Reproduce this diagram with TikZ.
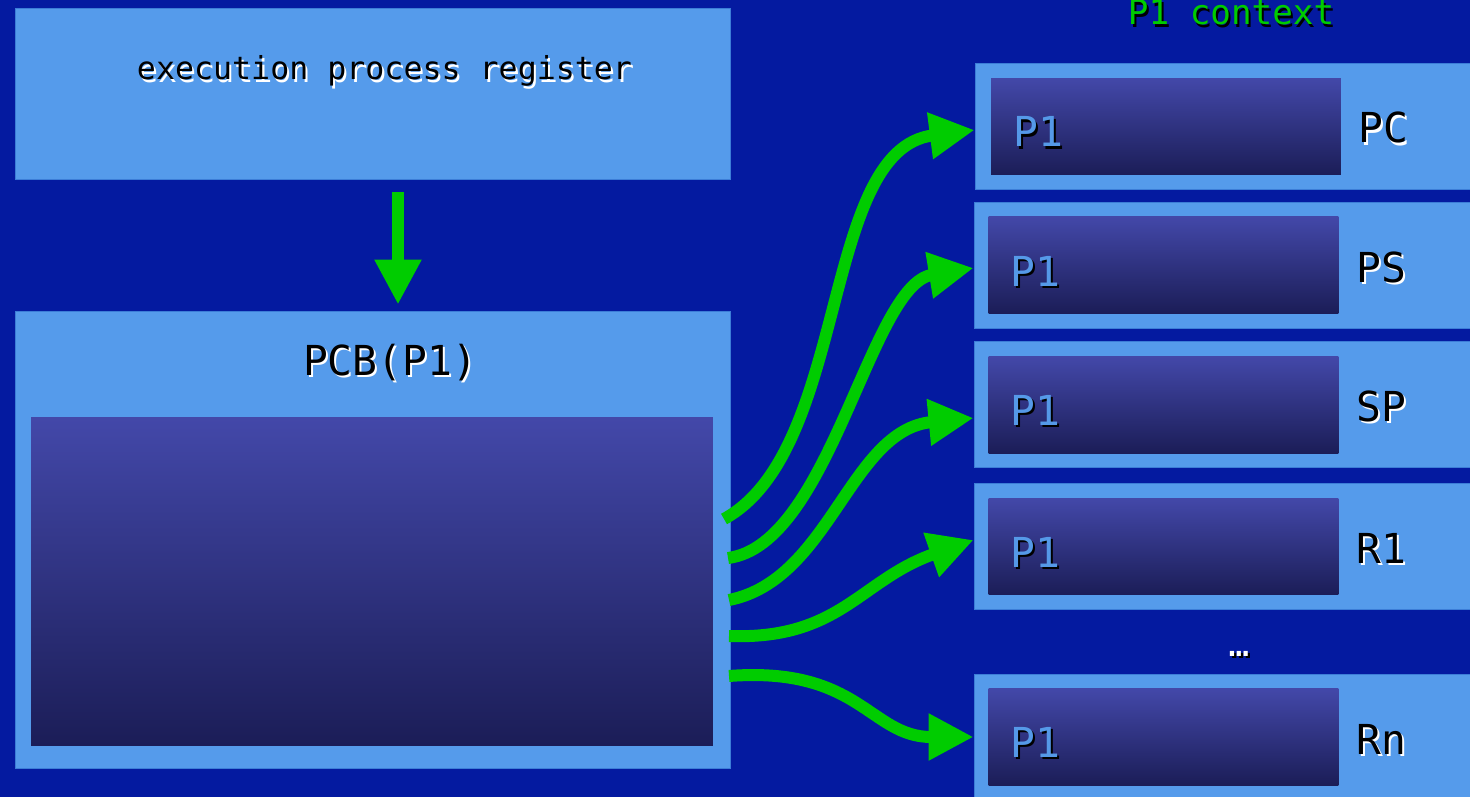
\documentclass[tikz,border=0pt]{standalone}
\usepackage{fontspec}
\setmainfont{DejaVu Sans Mono}
\usetikzlibrary{arrows.meta}

\definecolor{slidebg}{RGB}{4,26,160}
\definecolor{boxfill}{RGB}{85,155,235}
\definecolor{boxedge}{RGB}{60,125,215}
\definecolor{gradtop}{RGB}{67,72,169}
\definecolor{gradmid}{RGB}{50,54,136}
\definecolor{gradbot}{RGB}{27,29,87}
\definecolor{flowgreen}{RGB}{0,204,0}
\definecolor{pname}{RGB}{85,153,232}

% text with a small drop shadow: #1 text colour, #2 shadow colour
\newcommand{\shtext}[3]{\makebox[0pt][l]{\hspace{1.2pt}\raisebox{-1.2pt}{\textcolor{#2}{#3}}}\textcolor{#1}{#3}}

\tikzset{
	panel/.style={rectangle, draw=boxedge, line width=0.5pt, fill=boxfill, inner sep=0},
	slot/.style={rectangle, inner sep=0, top color=gradtop, middle color=gradmid, bottom color=gradbot},
	flow/.style={draw=flowgreen, line width=0.24cm, -{Triangle[length=0.9cm, width=0.88cm]}},
	bigtxt/.style={font=\fontsize{23.5}{26}\selectfont, inner sep=0},
	ctxtxt/.style={font=\fontsize{19.5}{22}\selectfont, inner sep=0},
	smalltxt/.style={font=\fontsize{18}{20}\selectfont, inner sep=0},
}

\begin{document}
\begin{tikzpicture}[x=0.02cm, y=-0.02cm]
	\useasboundingbox (0,0) rectangle (1470,797);
	\clip (0,0) rectangle (1470,797);
	\fill [slidebg] (0,0) rectangle (1470,797);

	\node at (372.5,93.5) [panel, minimum width=14.3cm, minimum height=3.42cm] (epr) {};
	\node at (384.5,80) [smalltxt, anchor=base] (eprtxt) {\shtext{black}{white}{execution process register}};

	\node at (372.5,539.5) [panel, minimum width=14.3cm, minimum height=9.14cm] (pcb) {};
	\node at (390,375) [bigtxt, anchor=base] (pcbtxt) {\shtext{black}{white}{PCB(P1)}};
	\node at (372,581.5) [slot, minimum width=13.64cm, minimum height=6.58cm] (pcbslot) {};

	\node at (1231,25) [ctxtxt, anchor=base] (ctxtxt) {\shtext{flowgreen}{black}{P1 context}};

	\node at (1227.5,126) [panel, minimum width=10.1cm, minimum height=2.52cm] (regPC) {};
	\node at (1166,126.5) [slot, minimum width=7cm, minimum height=1.94cm] (slotPC) {};
	\node at (1013,147) [bigtxt, anchor=base west] (pPC) {\shtext{pname}{black}{P1}};
	\node at (1358,143) [bigtxt, anchor=base west] (nPC) {\shtext{black}{white}{PC}};

	\node at (1226.5,265) [panel, minimum width=10.1cm, minimum height=2.52cm] (regPS) {};
	\node at (1163.5,265) [slot, minimum width=7cm, minimum height=1.94cm] (slotPS) {};
	\node at (1010,286) [bigtxt, anchor=base west] (pPS) {\shtext{pname}{black}{P1}};
	\node at (1356,282) [bigtxt, anchor=base west] (nPS) {\shtext{black}{white}{PS}};

	\node at (1226.5,404.5) [panel, minimum width=10.1cm, minimum height=2.52cm] (regSP) {};
	\node at (1163.5,405) [slot, minimum width=7cm, minimum height=1.94cm] (slotSP) {};
	\node at (1010,425.5) [bigtxt, anchor=base west] (pSP) {\shtext{pname}{black}{P1}};
	\node at (1356,421.5) [bigtxt, anchor=base west] (nSP) {\shtext{black}{white}{SP}};

	\node at (1226.5,546.5) [panel, minimum width=10.1cm, minimum height=2.52cm] (regR1) {};
	\node at (1163.5,546.5) [slot, minimum width=7cm, minimum height=1.94cm] (slotR1) {};
	\node at (1010,567.5) [bigtxt, anchor=base west] (pR1) {\shtext{pname}{black}{P1}};
	\node at (1356,563.5) [bigtxt, anchor=base west] (nR1) {\shtext{black}{white}{R1}};

	\node at (1239,655) [ctxtxt] (regdots) {\shtext{white}{black}{…}};

	\node at (1226.5,737) [panel, minimum width=10.1cm, minimum height=2.52cm] (regRn) {};
	\node at (1163.5,737) [slot, minimum width=7cm, minimum height=1.94cm] (slotRn) {};
	\node at (1010,757) [bigtxt, anchor=base west] (pRn) {\shtext{pname}{black}{P1}};
	\node at (1356,754) [bigtxt, anchor=base west] (nRn) {\shtext{black}{white}{Rn}};

	\coordinate (d1) at (398,192);
	\coordinate (o1) at (724,519);
	\coordinate (o2) at (728,558);
	\coordinate (o3) at (729,600);
	\coordinate (o4) at (729,636);
	\coordinate (o5) at (729,676);

	\draw [flow, shorten >=0.12cm] (d1) -- (d1 |- pcb.north);
	\draw [flow] (o1) .. controls (850,450) and (820,150) .. ([yshift=-0.08cm]regPC.west);
	\draw [flow] (o2) .. controls (830,545) and (870,285) .. ([yshift=-0.06cm]regPS.west);
	\draw [flow] (o3) .. controls (830,580) and (850,430) .. ([yshift=-0.27cm]regSP.west);
	\draw [flow] (o4) .. controls (840,640) and (860,580) .. ([yshift=0.13cm]regR1.west);
	\draw [flow] (o5) .. controls (860,666) and (870,737) .. (regRn.west);
\end{tikzpicture}
\end{document}
